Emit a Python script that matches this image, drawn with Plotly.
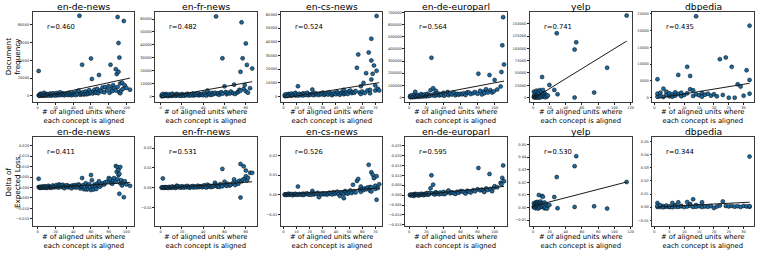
import plotly.graph_objects as go

# ---------------- data ----------------
dataset_names = ["en-de-news", "en-fr-news", "en-cs-news", "en-de-europarl", "yelp", "dbpedia"]

# (aligned units, document frequency, delta of expected loss)
ende_points = [
    (1,28000,0.0042),(1,500,0.0002),(2,1200,0.0001),(2,300,0.0000),(3,2500,0.0003),(3,800,-0.0002),
    (4,1500,0.0004),(5,400,0.0001),(5,2000,0.0000),(6,900,0.0002),(7,3500,0.0006),(7,200,-0.0001),
    (8,1300,0.0003),(9,600,0.0000),(10,2200,0.0005),(10,1000,-0.0002),(11,400,0.0001),(12,1800,0.0008),
    (13,700,0.0002),(14,2600,0.0000),(15,1100,0.0004),(15,300,-0.0001),(16,1500,0.0003),(17,2900,0.0010),
    (18,800,0.0001),(19,1900,0.0005),(20,500,0.0002),(21,3200,0.0012),(22,1200,0.0004),(23,700,0.0000),
    (24,2400,0.0015),(25,1600,0.0006),(25,4000,0.0010),(26,900,0.0002),(27,2000,0.0008),(28,3000,0.0013),
    (29,1400,0.0003),(30,600,-0.0003),(31,2200,0.0009),(32,1700,0.0005),(33,2800,0.0011),(34,1000,0.0001),
    (35,3600,0.0007),(36,1300,0.0004),(37,2300,0.0002),(38,800,-0.0004),(39,2600,0.0010),(40,1500,0.0006),
    (41,3100,0.0003),(42,1900,0.0012),(43,900,0.0000),(44,4500,0.0008),(45,2100,0.0002),(46,6000,0.0015),
    (47,90000,0.0010),(48,1200,-0.0005),(49,3000,0.0004),(50,35000,0.0045),(50,2000,0.0006),(51,4200,0.0011),
    (52,1600,-0.0008),(53,2500,0.0003),(54,5000,0.0020),(55,1800,-0.0010),(56,3300,0.0009),(57,2400,-0.0006),
    (58,6500,0.0016),(59,3000,0.0002),(60,42000,0.0060),(60,4000,-0.0012),(61,19000,0.0035),(62,2800,0.0005),
    (63,5500,-0.0009),(64,7000,0.0014),(65,3500,0.0003),(66,4500,-0.0007),(67,8000,0.0018),(68,3000,0.0010),
    (69,23500,0.0030),(70,6000,0.0004),(72,5000,0.0012),(73,9500,0.0020),(75,4000,0.0015),(76,10000,0.0025),
    (78,6500,0.0028),(80,11000,0.0045),(81,3500,0.0030),(82,35000,0.0040),(83,8000,0.0022),(84,5500,0.0018),
    (85,12000,0.0035),(86,9000,0.0045),(88,30000,0.0103),(88,6000,0.0028),(89,24500,0.0075),(90,88600,0.0097),
    (90,10000,0.0040),(91,59400,0.0084),(91,27000,0.0060),(92,43000,0.0065),(92,4000,-0.0030),(93,14000,0.0098),
    (93,3000,0.0020),(94,6000,0.0035),(95,15000,0.0010),(96,8000,0.0022),(97,84100,-0.0046),(98,12000,0.0030),
    (100,9000,0.0015),(104,7000,0.0008),
]

enfr_points = [
    (1,300,0.0001),(1,1200,0.0000),(2,600,0.0047),(2,2000,0.0002),(3,400,-0.0001),(4,1500,0.0003),
    (5,2000,0.0001),(5,700,0.0000),(6,1000,0.0002),(7,300,-0.0002),(8,1800,0.0004),(9,900,0.0001),
    (10,500,0.0000),(10,1400,0.0003),(11,2200,0.0006),(12,800,0.0002),(13,1200,0.0001),(14,600,-0.0001),
    (15,2000,0.0010),(15,1000,0.0004),(16,1600,0.0008),(17,700,0.0002),(18,1300,0.0005),(19,500,0.0000),
    (20,1900,0.0007),(21,1100,0.0003),(22,600,0.0001),(23,1500,0.0006),(24,900,0.0002),(25,2100,0.0009),
    (26,1200,0.0004),(27,700,0.0000),(28,1700,0.0005),(29,1000,0.0003),(30,2300,0.0008),(31,800,0.0001),
    (32,1400,0.0006),(33,1900,0.0004),(34,1100,0.0002),(35,2500,0.0010),(36,900,0.0003),(37,1600,0.0007),
    (38,1300,0.0005),(39,2000,0.0002),(40,1000,0.0009),(41,2600,0.0012),(42,1500,0.0004),(43,800,0.0001),
    (44,4600,0.0015),(45,1800,0.0006),(46,2200,0.0010),(47,1200,0.0003),(48,2800,0.0008),(49,1600,0.0005),
    (50,2400,0.0011),(51,3000,0.0025),(52,62000,0.0013),(53,1900,0.0006),(54,2600,0.0009),(55,1400,0.0004),
    (56,2800,0.0018),(57,3300,0.0012),(58,29600,0.0095),(58,2200,0.0007),(60,7900,0.0030),(61,3500,0.0014),
    (62,1800,0.0009),(63,2900,0.0020),(65,2400,0.0011),(66,3800,0.0016),(68,2600,0.0024),(69,9200,0.0042),
    (70,2000,0.0013),(72,3100,0.0028),(73,3800,0.0020),(74,5200,0.0035),(75,19100,0.0120),(75,4500,-0.0050),
    (76,57400,0.0032),(77,29600,0.0040),(78,6000,0.0108),(79,8900,0.0045),(80,41100,0.0087),(80,4100,0.0058),
    (81,24500,0.0036),(82,3000,0.0050),(84,6500,0.0075),(86,21700,0.0075),
]

encs_points = [
    (1,200,0.0000),(1,900,0.0002),(2,500,0.0001),(2,1500,-0.0001),(3,300,0.0003),(4,1700,0.0006),
    (4,800,0.0000),(5,1200,0.0002),(6,400,0.0001),(6,2000,0.0004),(7,900,-0.0002),(8,1400,0.0003),
    (9,600,0.0001),(9,2500,0.0005),(10,1100,0.0002),(11,7400,0.0042),(11,500,0.0000),(12,1800,0.0004),
    (13,800,0.0001),(14,1300,0.0003),(15,2200,0.0006),(15,600,-0.0001),(16,1600,0.0002),(17,1000,0.0005),
    (18,2600,0.0007),(19,700,0.0001),(20,1500,0.0003),(21,1200,0.0000),(22,4900,0.0020),(22,1900,0.0009),
    (23,800,0.0002),(24,2400,0.0006),(25,1300,0.0004),(26,1800,0.0010),(27,900,-0.0012),(28,2100,0.0005),
    (29,1500,0.0002),(30,2700,0.0008),(31,1000,0.0003),(32,1700,0.0006),(33,2300,0.0001),(34,1200,0.0004),
    (35,2900,0.0011),(36,1600,0.0007),(37,800,0.0002),(38,2000,0.0013),(39,2600,0.0005),(40,1400,0.0009),
    (41,3100,0.0016),(42,1900,0.0003),(43,1100,-0.0006),(44,2500,0.0012),(45,3300,0.0008),(46,4700,-0.0017),
    (46,1500,0.0004),(47,2200,0.0019),(48,2900,0.0010),(49,1700,0.0006),(50,3600,0.0014),(51,4200,0.0022),
    (52,2300,0.0009),(53,3000,0.0051),(54,2600,0.0018),(55,3800,0.0012),(56,20900,0.0071),(57,30700,0.0081),
    (58,2800,0.0026),(59,7400,0.0042),(59,1700,0.0015),(60,3500,0.0030),(61,9800,0.0024),(62,2400,0.0032),
    (63,17000,0.0028),(64,4300,0.0037),(65,32200,0.0153),(66,4700,0.0021),(66,2200,0.0040),(67,42300,0.0115),
    (67,12300,0.0017),(67,26300,0.0038),(68,16500,0.0102),(69,22600,0.0085),(70,7900,0.0046),(70,4200,0.0030),
    (71,59000,0.0095),(71,18700,-0.0025),(72,5500,0.0035),(73,4200,0.0054),
]

europarl_points = [
    (1,3000,0.0000),(1,12000,0.0002),(2,6000,-0.0001),(3,18000,0.0003),(4,2000,0.0001),(5,9000,-0.0004),
    (6,25000,0.0004),(7,46000,0.0006),(7,4000,0.0000),(8,14000,0.0002),(9,8000,0.0001),(10,20000,0.0005),
    (11,5000,-0.0002),(12,16000,0.0003),(13,10000,0.0001),(14,28000,0.0007),(15,7000,0.0002),(16,19000,0.0004),
    (17,12000,0.0000),(18,24000,0.0006),(19,9000,0.0003),(20,15000,0.0008),(21,30000,0.0010),(22,11000,0.0002),
    (23,21000,0.0005),(24,14000,0.0012),(25,60000,0.0035),(26,327000,0.0100),(27,18000,0.0009),(28,76000,0.0053),
    (29,26000,0.0006),(30,13000,0.0003),(31,55000,0.0015),(32,22000,0.0011),(33,35000,0.0008),(35,17000,0.0004),
    (36,29000,0.0013),(38,20000,0.0007),(40,38000,0.0016),(41,15000,0.0005),(43,27000,0.0010),(45,45000,0.0018),
    (46,19000,0.0023),(48,32000,0.0009),(50,24000,0.0014),(52,40000,0.0011),(54,18000,0.0006),(56,30000,0.0017),
    (58,22000,0.0012),(60,30000,0.0020),(62,26000,0.0020),(64,35000,0.0015),(66,20000,0.0008),(68,42000,0.0022),
    (70,40000,0.0018),(72,28000,0.0013),(75,35000,0.0025),(77,45000,0.0019),(80,30000,0.0030),(81,196000,0.0137),
    (83,55000,0.0024),(85,25000,0.0028),(87,49000,0.0021),(88,35000,0.0016),(90,68000,0.0034),(92,40000,0.0026),
    (94,185000,0.0107),(95,60000,0.0031),(97,40000,0.0020),(99,50000,0.0037),(100,144000,0.0045),(103,65000,0.0040),
    (107,90000,0.0062),(108,210000,0.0055),(109,430000,0.0087),(110,662000,0.0150),(111,272000,0.0070),
]

yelp_points = [
    (1,500,0.0002),(1,3000,0.0010),(1,12000,0.0035),(2,1500,0.0005),(2,6000,0.0020),(2,800,0.0000),
    (3,9000,0.0040),(3,2000,0.0012),(3,300,-0.0005),(4,4000,0.0030),(4,14000,0.0025),(4,1000,0.0008),
    (5,7000,0.0045),(5,2500,0.0015),(5,200,0.0002),(6,5000,0.0038),(6,11000,0.0028),(6,1200,-0.0008),
    (7,3500,0.0100),(7,8000,0.0042),(7,600,0.0006),(8,15000,0.0033),(8,2000,0.0018),(8,100,0.0000),
    (9,6000,0.0048),(9,1000,0.0010),(10,4500,0.0035),(10,12000,0.0022),(11,41800,0.0092),(11,2500,0.0005),
    (12,15500,0.0085),(12,7000,0.0030),(13,1500,0.0012),(14,9000,0.0040),(14,3000,-0.0006),(15,500,0.0002),
    (16,5000,0.0025),(17,2000,-0.0008),(18,4000,0.0015),(20,25600,0.0020),(26,15500,0.0084),(29,131000,0.0242),
    (30,6700,-0.0005),(51,97700,0.0329),(51,0,0.0005),(53,112500,0.0408),(75,10100,0.0010),(91,60600,-0.0008),
    (115,167000,0.0203),
]

dbpedia_points = [
    (1,5500,0.0032),(1,300,0.0002),(1,1200,0.0010),(2,600,0.0001),(2,1500,0.0014),(3,2700,0.0008),
    (3,200,0.0000),(4,900,0.0003),(4,1800,0.0012),(5,400,0.0001),(5,1300,0.0006),(6,1000,0.0032),
    (6,300,0.0000),(7,1600,0.0015),(7,600,0.0004),(8,6800,0.0037),(8,1100,0.0002),(9,400,0.0007),
    (9,1500,0.0010),(10,800,0.0001),(11,9200,0.0039),(11,1300,0.0005),(12,6500,0.0024),(12,2500,0.0011),
    (13,2200,0.0060),(13,500,0.0002),(14,24300,0.0016),(14,1000,0.0004),(15,700,0.0008),(16,1400,0.0037),
    (16,300,0.0001),(17,900,0.0006),(18,1200,0.0003),(19,600,0.0009),(20,1000,-0.0006),(21,400,0.0005),
    (22,11500,0.0012),(23,800,0.0044),(24,12000,0.0010),(25,0,0.0006),(26,9200,0.0010),(27,0,0.0004),
    (28,4000,0.0008),(29,3300,0.0002),(30,600,0.0010),(31,8200,0.0006),(32,5300,0.0003),(32,1200,0.0008),
    (32,21500,0.0386),
]

freq_r = ["0.460", "0.482", "0.524", "0.564", "0.741", "0.435"]
delta_r = ["0.411", "0.531", "0.526", "0.595", "0.530", "0.344"]

# fitted regression line values at the smallest and largest x of each dataset
freq_fit_start = [-2000, -1000, -1200, -12000, -1500, -200]
freq_fit_end = [20000, 11500, 10000, 135000, 115000, 4300]
delta_fit_start = [-0.0004, -0.0003, 0.0000, -0.0003, 0.0013, 0.0002]
delta_fit_end = [0.0024, 0.0030, 0.0035, 0.0044, 0.0203, 0.0038]

x_tick_values = [
    [0, 20, 40, 60, 80, 100],
    [0, 20, 40, 60, 80],
    [0, 10, 20, 30, 40, 50, 60, 70],
    [0, 20, 40, 60, 80, 100],
    [0, 20, 40, 60, 80, 100, 120],
    [0, 5, 10, 15, 20, 25, 30],
]
freq_tick_values = [
    [0, 20000, 40000, 60000, 80000],
    [0, 10000, 20000, 30000, 40000, 50000, 60000],
    [0, 10000, 20000, 30000, 40000, 50000, 60000],
    [0, 100000, 200000, 300000, 400000, 500000, 600000, 700000],
    [0, 25000, 50000, 75000, 100000, 125000, 150000, 175000],
    [0, 5000, 10000, 15000, 20000, 25000],
]
delta_tick_values = [
    [-0.015, -0.010, -0.005, 0.000, 0.005, 0.010, 0.015, 0.020],
    [-0.01, 0.00, 0.01, 0.02],
    [-0.01, 0.00, 0.01, 0.02],
    [-0.015, -0.010, -0.005, 0.000, 0.005, 0.010, 0.015, 0.020, 0.025],
    [-0.01, 0.00, 0.01, 0.02, 0.03, 0.04, 0.05],
    [-0.01, 0.00, 0.01, 0.02, 0.03, 0.04, 0.05],
]
delta_tick_decimals = [3, 2, 2, 3, 2, 2]

row_labels = ["Document<br>frequency", "Delta of<br>Expected Loss"]
x_label = "# of aligned units where<br>each concept is aligned"

# ---------------- layout (pixels) ----------------
W, H = 761, 253
col_left = [33, 156, 282, 407, 532, 655]
panel_w = 102
row_top = [11, 137]
row_bottom = [101.5, 227]

x_ranges = [[-5.5, 109], [-5, 90.5], [-2, 75.5], [-4.5, 114.5], [-4, 121], [-0.7, 33.5]]
freq_ranges = [[-6500, 94300], [-4000, 65500], [-4000, 62000], [-35000, 705000], [-8500, 174500], [-1200, 25600]]
delta_ranges = [[-0.0185, 0.0242], [-0.0195, 0.0257], [-0.016, 0.0295], [-0.0157, 0.0294], [-0.0148, 0.0561], [-0.0145, 0.0536]]

FONT = "DejaVu Sans"
MARK = "#1c6aa0"


def fmt(v, d):
    s = f"{v:.{d}f}"
    if v < 0:
        s = "\u2212" + s[1:]
    return s


point_sets = [ende_points, enfr_points, encs_points, europarl_points, yelp_points, dbpedia_points]

fig = go.Figure()
layout = dict(
    width=W, height=H, margin=dict(l=0, r=0, t=0, b=0), autosize=False,
    paper_bgcolor="white", plot_bgcolor="white", showlegend=False,
    font=dict(family=FONT, color="black"),
)
annotations = []

axis_common = dict(
    showline=True, mirror=True, linecolor="#3a3a3a", linewidth=0.8,
    ticks="outside", ticklen=2, tickwidth=0.6, tickcolor="#222",
    showgrid=False, zeroline=False, tickfont=dict(family=FONT, size=3.6, color="#222"),
)

for r in range(2):
    for c in range(6):
        k = r * 6 + c + 1
        pts = point_sets[c]
        xs = [p[0] for p in pts]
        ys = [p[1 + r] for p in pts]
        xa = "x" if k == 1 else f"x{k}"
        ya = "y" if k == 1 else f"y{k}"

        fig.add_trace(go.Scatter(
            x=xs, y=ys, mode="markers", xaxis=xa, yaxis=ya,
            marker=dict(size=4.0, color=MARK, line=dict(color="black", width=0.5)),
            hoverinfo="skip",
        ))
        fs = freq_fit_start if r == 0 else delta_fit_start
        fe = freq_fit_end if r == 0 else delta_fit_end
        fig.add_trace(go.Scatter(
            x=[min(xs), max(xs)], y=[fs[c], fe[c]], mode="lines", xaxis=xa, yaxis=ya,
            line=dict(color="#1a1a1a", width=1), hoverinfo="skip",
        ))

        x0 = col_left[c] / W
        x1 = (col_left[c] + panel_w) / W
        y0 = 1 - row_bottom[r] / H
        y1 = 1 - row_top[r] / H

        if r == 0:
            yt = freq_tick_values[c]
            ytext = [str(v) for v in yt]
            yr = freq_ranges[c]
        else:
            yt = delta_tick_values[c]
            ytext = [fmt(v, delta_tick_decimals[c]) for v in yt]
            yr = delta_ranges[c]

        layout["xaxis" if k == 1 else f"xaxis{k}"] = dict(
            axis_common, domain=[x0, x1], anchor=ya, range=x_ranges[c],
            tickvals=x_tick_values[c], ticktext=[str(v) for v in x_tick_values[c]],
        )
        layout["yaxis" if k == 1 else f"yaxis{k}"] = dict(
            axis_common, domain=[y0, y1], anchor=xa, range=yr,
            tickvals=yt, ticktext=ytext,
        )

        # title
        annotations.append(dict(
            text=dataset_names[c], xref="paper", yref="paper",
            x=(x0 + x1) / 2, y=1 - (row_top[r] - 5.5) / H,
            xanchor="center", yanchor="middle", showarrow=False,
            font=dict(family=FONT, size=9.2, color="black"),
        ))
        # r value
        rv = freq_r[c] if r == 0 else delta_r[c]
        annotations.append(dict(
            text="r=" + rv, xref=f"{xa} domain", yref=f"{ya} domain",
            x=0.115, y=0.83, xanchor="left", yanchor="middle", showarrow=False,
            font=dict(family=FONT, size=6.8, color="black"),
        ))
        # x label
        annotations.append(dict(
            text=x_label, xref="paper", yref="paper",
            x=(x0 + x1) / 2, y=1 - (row_bottom[r] + 15) / H,
            xanchor="center", yanchor="middle", showarrow=False,
            font=dict(family=FONT, size=6.8, color="black"),
        ))

    # row y label
    annotations.append(dict(
        text=row_labels[r], xref="paper", yref="paper",
        x=12.5 / W, y=1 - (row_top[r] + row_bottom[r]) / 2 / H,
        xanchor="center", yanchor="middle", showarrow=False, textangle=-90,
        font=dict(family=FONT, size=7.2, color="black"),
    ))

layout["annotations"] = annotations
fig.update_layout(**layout)
fig.write_html(
    "out.html",
    config={"displayModeBar": False},
    post_script="document.body.style.margin='0';document.body.style.overflow='hidden';",
)
